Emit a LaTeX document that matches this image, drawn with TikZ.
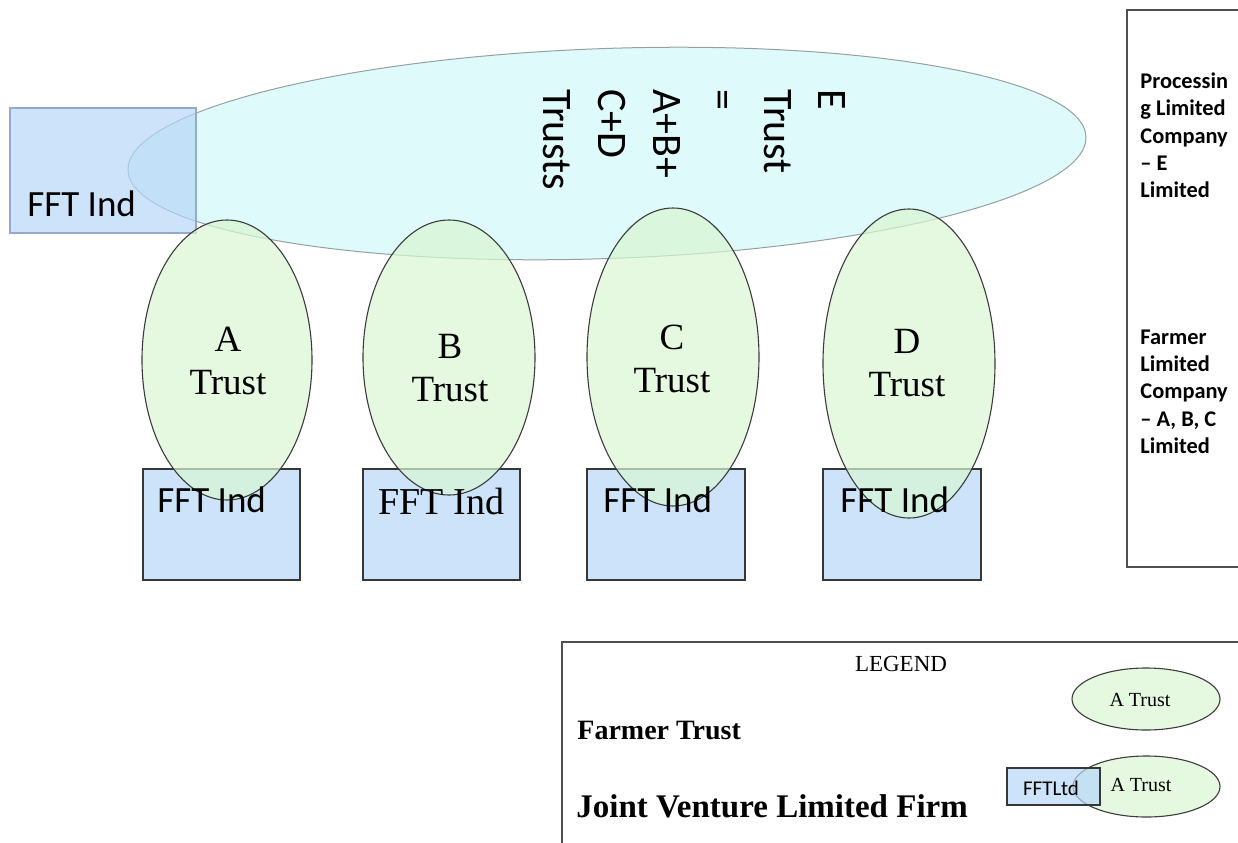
\documentclass[tikz,border=0pt]{standalone}
\usepackage{fontspec}
\setmainfont{Liberation Serif}
\newfontfamily\carl{Carlito}
\usetikzlibrary{shapes.geometric}
\definecolor{bigfill}{RGB}{209,248,248}
\definecolor{boxfill}{RGB}{182,215,248}
\definecolor{grnfill}{RGB}{216,246,211}
\definecolor{bigline}{RGB}{150,160,160}
\definecolor{boxline}{RGB}{55,55,55}
\definecolor{lboxline}{RGB}{150,170,200}
\definecolor{grnline}{RGB}{60,60,60}
\definecolor{frameline}{RGB}{80,80,80}
\tikzset{
  bigell/.style={ellipse, draw=bigline, line width=0.5pt, fill=bigfill, fill opacity=0.7, draw opacity=1, inner sep=0pt},
  grnell/.style={ellipse, draw=grnline, line width=0.55pt, fill=grnfill, fill opacity=0.7, draw opacity=1, inner sep=0pt},
  fftbox/.style={rectangle, draw=boxline, line width=0.6pt, fill=boxfill, fill opacity=0.7, draw opacity=1, inner sep=0pt},
  sanslbl/.style={font=\carl\fontsize{18.5}{22}\selectfont, inner sep=0pt, anchor=base west},
  etxt/.style={font=\carl\fontsize{21}{25}\selectfont, inner sep=0pt, anchor=base west, rotate=-90},
  trusttxt/.style={font=\fontsize{18.5}{21.5}\selectfont, align=center, inner sep=0pt},
  sidetxt/.style={font=\carl\bfseries\fontsize{11.2}{13.6}\selectfont, align=left, inner sep=0pt, anchor=north west},
  frame/.style={draw=frameline, line width=0.7pt},
}
\begin{document}
\begin{tikzpicture}[x=0.5pt,y=-0.5pt]
\useasboundingbox (0,0) rectangle (1238,842);
\clip (0,0) rectangle (1238,842);
% big E ellipse
\node[bigell, minimum width=479.3pt, minimum height=105pt, rotate=2] (E) at (607,153.5) {};
% left FFT box
\node[fftbox, draw=lboxline, minimum width=93pt, minimum height=62.5pt] (fL) at (103,170.5) {};
\node[sanslbl] (fLt) at (27,216) {FFT Ind};
% E text
\node[etxt] (e1) at (818,89) {E};
\node[etxt] (e2) at (764,89) {Trust};
\node[etxt] (e3) at (709,89) {=};
\node[etxt] (e4) at (653,89) {A+B+};
\node[etxt] (e5) at (598,89) {C+D};
\node[etxt] (e6) at (543,89) {Trusts};
% bottom boxes
\node[fftbox, minimum width=78.5pt, minimum height=55.5pt] (fA) at (221.5,524.5) {};
\node[fftbox, minimum width=78.5pt, minimum height=55.5pt] (fB) at (441.5,524.5) {};
\node[fftbox, minimum width=79pt, minimum height=55.5pt] (fC) at (666,524.5) {};
\node[fftbox, minimum width=79pt, minimum height=55.5pt] (fD) at (902,524.5) {};
% trust ellipses
\node[grnell, minimum width=85pt, minimum height=140pt] (A) at (227,360) {};
\node[grnell, minimum width=86pt, minimum height=137.5pt] (B) at (449,357.5) {};
\node[grnell, minimum width=86pt, minimum height=149pt] (C) at (673,357) {};
\node[grnell, minimum width=86pt, minimum height=154.5pt] (D) at (909,363.5) {};
\node[trusttxt] (At) at (228,361) {A\\Trust};
\node[trusttxt] (Bt) at (450,368.5) {B\\Trust};
\node[trusttxt] (Ct) at (672,358.5) {C\\Trust};
\node[trusttxt] (Dt) at (907,363.5) {D\\Trust};
% box labels
\node[sanslbl] (fAt) at (157,512) {FFT Ind};
\node[font=\fontsize{19}{22}\selectfont, inner sep=0pt, anchor=base west] (fBt) at (378,514) {FFT Ind};
\node[sanslbl] (fCt) at (603,512) {FFT Ind};
\node[sanslbl] (fDt) at (840,512) {FFT Ind};
% right side box
\draw[frame] (1127,10) rectangle (1250,567);
\node[sidetxt] (p1) at (1140,72.5) {Processin\\g Limited\\Company\\– E\\Limited};
\node[sidetxt] (p2) at (1140,329.5) {Farmer\\Limited\\Company\\– A, B, C\\Limited};
% legend
\draw[frame] (562,642) rectangle (1250,860);
\node[font=\fontsize{11.5}{14}\selectfont, inner sep=0pt] (lg) at (901,664) {LEGEND};
\node[font=\bfseries\fontsize{14}{17}\selectfont, inner sep=0pt, anchor=west] (lft) at (577,730) {Farmer Trust};
\node[font=\bfseries\fontsize{16.5}{20}\selectfont, inner sep=0pt, anchor=west] (ljv) at (576,806) {Joint Venture Limited Firm};
\node[grnell, minimum width=74pt, minimum height=31pt] (l1) at (1146,699) {};
\node[font=\fontsize{10}{12}\selectfont, inner sep=0pt] (l1t) at (1140,700) {A Trust};
\node[grnell, minimum width=73.5pt, minimum height=30.5pt] (l2) at (1146.5,786.5) {};
\node[fftbox, minimum width=46.5pt, minimum height=18.5pt] (l2b) at (1053.5,786.5) {};
\node[font=\carl\fontsize{10.5}{12}\selectfont, inner sep=0pt] (l2bt) at (1051,788) {FFTLtd};
\node[font=\fontsize{10}{12}\selectfont, inner sep=0pt] (l2t) at (1141,785) {A Trust};
\end{tikzpicture}
\end{document}
